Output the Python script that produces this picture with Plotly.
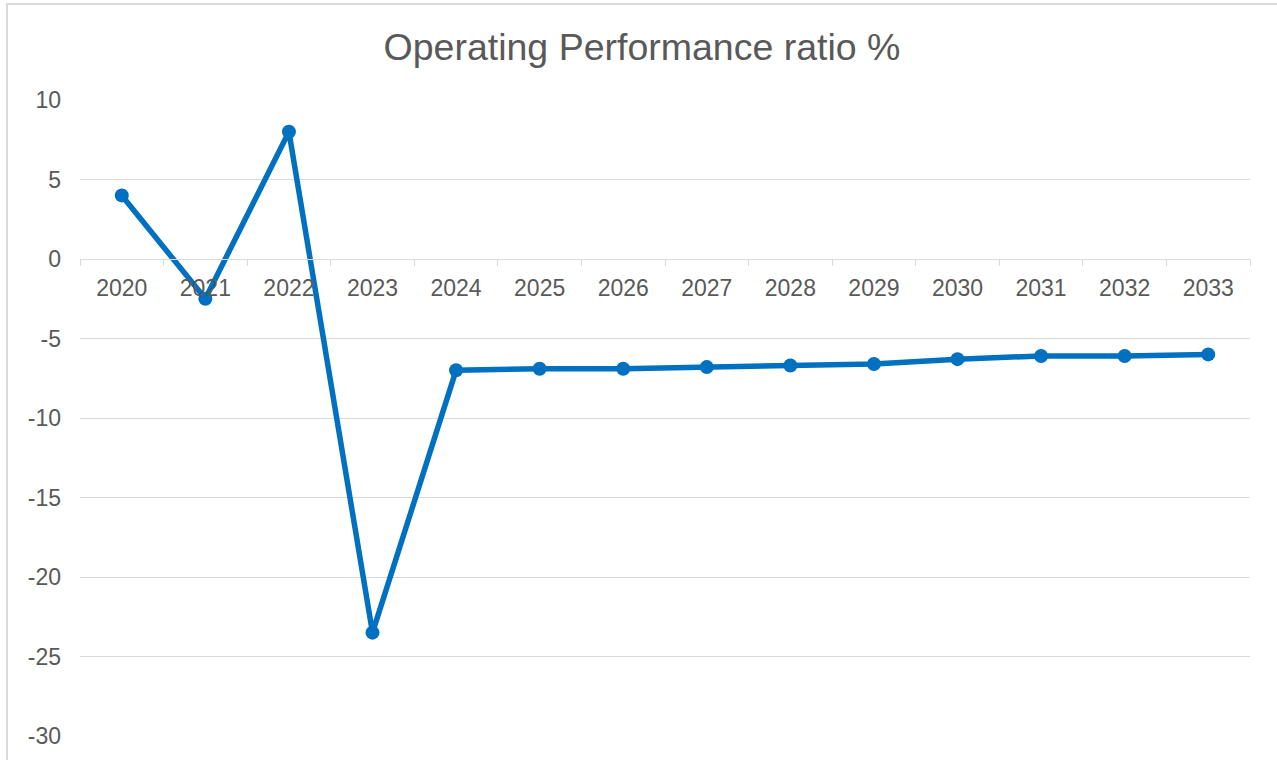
import plotly.graph_objects as go

years = ["2020", "2021", "2022", "2023", "2024", "2025", "2026", "2027",
         "2028", "2029", "2030", "2031", "2032", "2033"]
ratio = [4.0, -2.5, 8.0, -23.5, -7.0, -6.9, -6.9, -6.8, -6.7, -6.6, -6.3, -6.1, -6.1, -6.0]
y_ticks = [10, 5, 0, -5, -10, -15, -20, -25, -30]
y_tick_text = ["10", "5", "0", "-5", "-10", "-15", "-20", "-25", "-30"]

W, H = 1277, 760
L, R, T, B = 80, 27, 100, 24
ph = H - T - B
pw = W - L - R

fig = go.Figure()
fig.add_trace(go.Scatter(
    x=years, y=ratio, mode="lines+markers",
    line=dict(color="#0070C0", width=5.5),
    marker=dict(color="#0070C0", size=14),
    showlegend=False, cliponaxis=False,
))

zero_pos = (0 - (-30)) / 40.0

fig.update_layout(
    width=W, height=H,
    margin=dict(l=L, r=R, t=T, b=B),
    paper_bgcolor="white", plot_bgcolor="white",
    font=dict(family="Liberation Sans, Arial, sans-serif", color="#595959"),
    title=dict(text="Operating Performance ratio %", x=642 / W, xref="container",
               xanchor="center", y=1 - 47 / H, yref="container", yanchor="middle",
               font=dict(size=37.5, color="#595959")),
    xaxis=dict(
        type="category", anchor="free", position=zero_pos,
        showline=True, linecolor="#D9D9D9", linewidth=1,
        ticks="outside", ticklen=6, tickcolor="#D9D9D9", tickson="boundaries",
        showgrid=False, zeroline=False,
        tickfont=dict(size=23, color="#595959"),
        ticklabelstandoff=8,
        range=[-0.5, len(years) - 0.5],
    ),
    yaxis=dict(
        range=[-30, 10], tickvals=y_ticks, ticktext=y_tick_text,
        showgrid=True, gridcolor="#D9D9D9", gridwidth=1,
        zeroline=False, showline=False, ticks="",
        tickfont=dict(size=23, color="#595959"),
        ticklabelstandoff=18,
    ),
    shapes=[
        dict(type="rect", xref="paper", yref="paper",
             x0=(7 - L) / pw, x1=(W + 40 - L) / pw,
             y0=-(B + 40) / ph, y1=1 + (T - 4) / ph,
             line=dict(color="#D9D9D9", width=2), fillcolor="rgba(0,0,0,0)",
             layer="below"),
    ],
)

fig.write_html(
    "out.html",
    config={"displayModeBar": False},
    post_script="document.body.style.margin='0';document.body.style.overflow='hidden';",
)
